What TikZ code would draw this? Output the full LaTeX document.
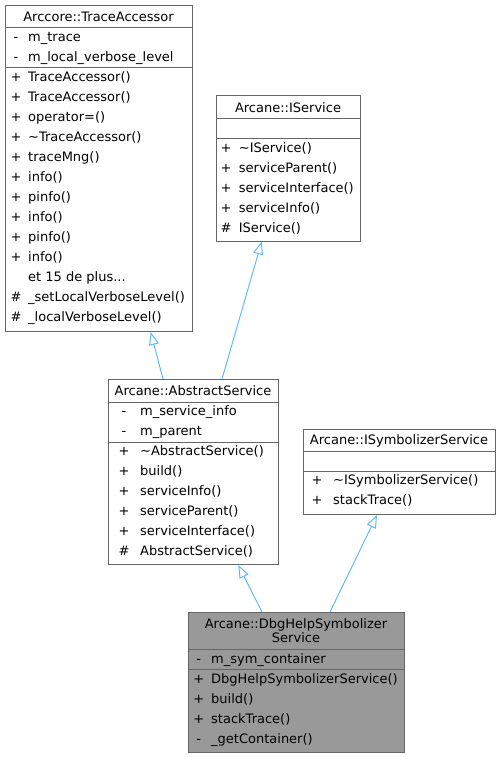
\documentclass[tikz,border=0pt]{standalone}
\usepackage{fontspec}
\setmainfont{DejaVu Sans}
\usetikzlibrary{calc,arrows.meta}
\definecolor{inheritblue}{HTML}{63B8FF}
\definecolor{boxgray}{HTML}{666666}
\definecolor{selfgray}{HTML}{999999}
\begin{document}
\begin{tikzpicture}[x=1pt,y=-1pt,every node/.style={font=\fontsize{13}{14}\selectfont,inner sep=0,text depth=0},
        classbox/.style={draw=boxgray,line width=1,anchor=north west},
        sepline/.style={draw=boxgray,line width=1},
        inherit/.style={inheritblue,line width=1,-{Triangle[open,length=13,width=10]}}]
        \useasboundingbox (0,0) rectangle (500,757);
        % Arccore::TraceAccessor
        \node [classbox,minimum width=187,minimum height=326] (trace) at (5,5) {};
        \node [anchor=base] (trace-title) at (98.5,21.5) {Arccore::TraceAccessor};
        \draw [sepline] (trace.west |- 0,28) -- (trace.east |- 0,28) (trace.west |- 0,68) -- (trace.east |- 0,68);
        \foreach \s/\t [count=\i,evaluate=\i as \y using 21.5+20*\i] in {-/m\_trace,-/m\_local\_verbose\_level,+/TraceAccessor(),+/TraceAccessor(),+/operator=(),+/\textasciitilde TraceAccessor(),+/traceMng(),+/info(),+/pinfo(),+/info(),+/pinfo(),+/info(),{}/et 15 de plus.{}.{}.,\#/\_setLocalVerboseLevel(),\#/\_localVerboseLevel()} {
            \node [anchor=base] (trace-s\i) at (16,\y) {\s};
            \node [anchor=base west] (trace-t\i) at (28,\y) {\t};
        }
        % Arcane::IService
        \node [classbox,minimum width=144,minimum height=145] (iserv) at (216,95.5) {};
        \node [anchor=base] (iserv-title) at (288,112.2) {Arcane::IService};
        \draw [sepline] (iserv.west |- 0,118.5) -- (iserv.east |- 0,118.5) (iserv.west |- 0,138.5) -- (iserv.east |- 0,138.5);
        \foreach \s/\t [count=\i,evaluate=\i as \y using 132.2+20*\i] in {+/\textasciitilde IService(),+/serviceParent(),+/serviceInterface(),+/serviceInfo(),\#/IService()} {
            \node [anchor=base] (iserv-s\i) at (226,\y) {\s};
            \node [anchor=base west] (iserv-t\i) at (238.7,\y) {\t};
        }
        % Arcane::AbstractService
        \node [classbox,minimum width=170,minimum height=185] (abs) at (108,379) {};
        \node [anchor=base] (abs-title) at (193,395.5) {Arcane::AbstractService};
        \draw [sepline] (abs.west |- 0,402) -- (abs.east |- 0,402) (abs.west |- 0,442) -- (abs.east |- 0,442);
        \foreach \s/\t [count=\i,evaluate=\i as \y using 395.5+20*\i] in {-/m\_service\_info,-/m\_parent,+/\textasciitilde AbstractService(),+/build(),+/serviceInfo(),+/serviceParent(),+/serviceInterface(),\#/AbstractService()} {
            \node [anchor=base] (abs-s\i) at (124,\y) {\s};
            \node [anchor=base west] (abs-t\i) at (140,\y) {\t};
        }
        % Arcane::ISymbolizerService
        \node [classbox,minimum width=192,minimum height=85] (isym) at (303,429) {};
        \node [anchor=base] (isym-title) at (399,444.5) {Arcane::ISymbolizerService};
        \draw [sepline] (isym.west |- 0,451) -- (isym.east |- 0,451) (isym.west |- 0,471) -- (isym.east |- 0,471);
        \foreach \s/\t [count=\i,evaluate=\i as \y using 464.5+20*\i] in {+/\textasciitilde ISymbolizerService(),+/stackTrace()} {
            \node [anchor=base] (isym-s\i) at (317,\y) {\s};
            \node [anchor=base west] (isym-t\i) at (333,\y) {\t};
        }
        % Arcane::DbgHelpSymbolizerService
        \node [classbox,fill=selfgray,minimum width=216,minimum height=140] (dbg) at (188,612) {};
        \node [anchor=base] (dbg-title1) at (296,628.5) {Arcane::DbgHelpSymbolizer};
        \node [anchor=base] (dbg-title2) at (296,642.5) {Service};
        \draw [sepline] (dbg.west |- 0,649) -- (dbg.east |- 0,649) (dbg.west |- 0,669) -- (dbg.east |- 0,669);
        \foreach \s/\t [count=\i,evaluate=\i as \y using 643.5+20*\i] in {-/m\_sym\_container,+/DbgHelpSymbolizerService(),+/build(),+/stackTrace(),-/\_getContainer()} {
            \node [anchor=base] (dbg-s\i) at (198.7,\y) {\s};
            \node [anchor=base west] (dbg-t\i) at (211,\y) {\t};
        }
        % inheritance
        \draw [inherit] ($(abs.north west)+(55,0)$) -- ($(trace.south west)+(145.7,0)$);
        \draw [inherit] ($(abs.north west)+(114,0)$) -- ($(iserv.south west)+(45.7,0)$);
        \draw [inherit] ($(dbg.north west)+(74,0)$) -- ($(abs.south west)+(130.3,0)$);
        \draw [inherit] ($(dbg.north west)+(142,0)$) -- ($(isym.south west)+(74,0)$);
    \end{tikzpicture}
\end{document}
